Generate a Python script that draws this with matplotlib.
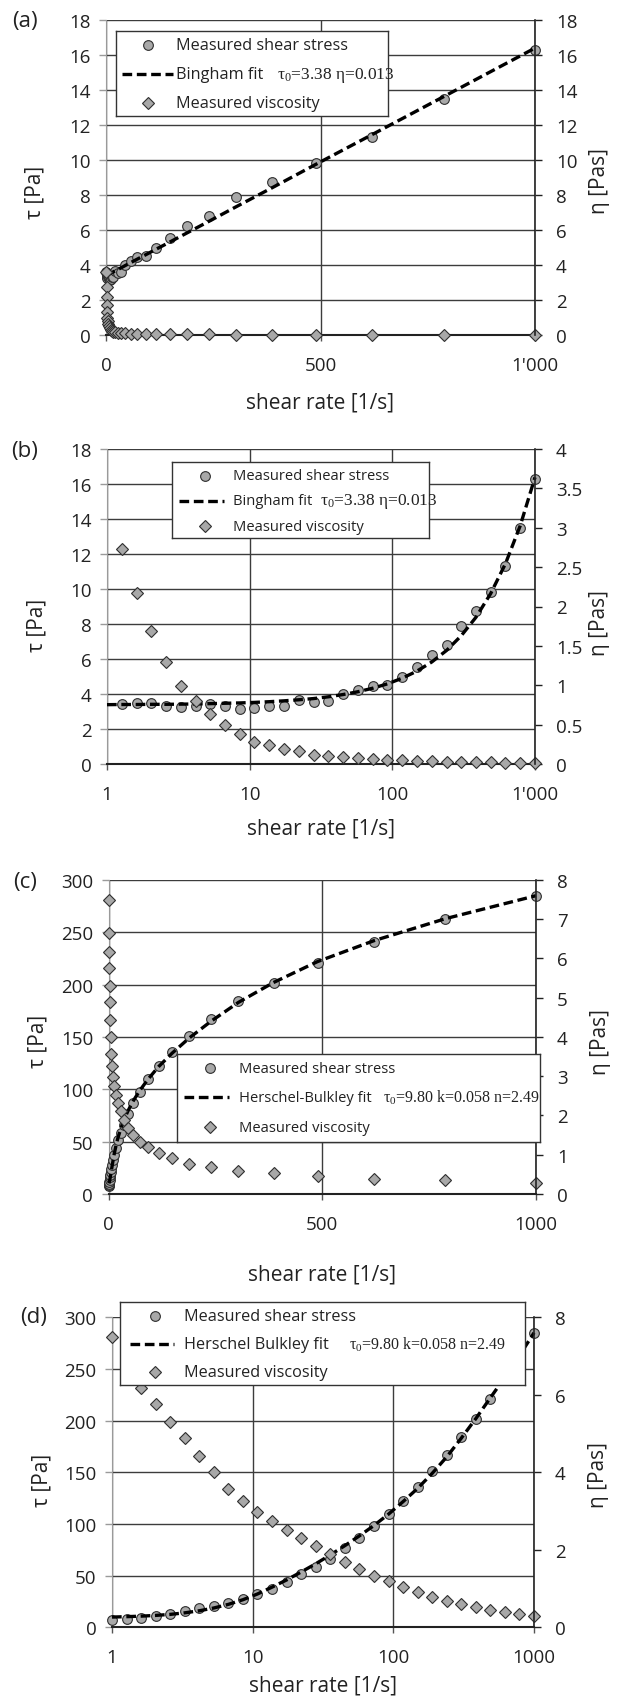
import matplotlib.pyplot as plt
from matplotlib.ticker import NullLocator

plt.rcParams['font.family'] = ['Open Sans', 'DejaVu Sans']
plt.rcParams['mathtext.fontset'] = 'custom'
plt.rcParams['mathtext.rm'] = 'Liberation Serif'
plt.rcParams['mathtext.it'] = 'Liberation Serif:italic'

# shear rates [1/s] (same for all measurements)
rate = [1.0, 1.27, 1.61, 2.04, 2.59, 3.29, 4.18, 5.30, 6.72, 8.53,
        10.8, 13.7, 17.4, 22.1, 28.1, 35.6, 45.2, 57.4, 72.8, 92.4,
        117, 149, 189, 240, 304, 386, 489, 621, 788, 1000]

# Bingham material
bingham_stress = [3.60, 3.43, 3.49, 3.47, 3.33, 3.26, 3.30, 3.41, 3.33, 3.16,
                  3.18, 3.30, 3.30, 3.68, 3.52, 3.62, 4.00, 4.25, 4.44, 4.51,
                  4.99, 5.56, 6.21, 6.80, 7.87, 8.76, 9.81, 11.31, 13.47, 16.27]
bingham_visc = [3.60, 2.73, 2.17, 1.69, 1.30, 0.995, 0.80, 0.635, 0.50, 0.377,
                0.284, 0.237, 0.186, 0.169, 0.118, 0.106, 0.089, 0.072, 0.063, 0.055,
                0.047, 0.040, 0.035, 0.030, 0.027, 0.024, 0.021, 0.019, 0.017, 0.016]
bingham_fit = [3.39, 3.40, 3.40, 3.41, 3.41, 3.42, 3.43, 3.45, 3.47, 3.49,
               3.52, 3.56, 3.61, 3.67, 3.74, 3.84, 3.97, 4.13, 4.33, 4.58,
               4.90, 5.31, 5.83, 6.49, 7.33, 8.39, 9.74, 11.45, 13.62, 16.38]

# Herschel-Bulkley material
hb_stress = [7.1, 8.1, 9.4, 11.0, 12.9, 15.8, 18.4, 20.6, 23.9, 27.7,
             32.3, 37.4, 43.5, 51.3, 58.4, 66.1, 76.5, 86.8, 97.7, 109.7,
             122.6, 135.8, 151.0, 166.8, 184.2, 201.6, 221.0, 241.0, 262.9, 285.0]
hb_visc = [7.50, 6.66, 6.17, 5.75, 5.31, 4.89, 4.43, 4.00, 3.57, 3.26,
           2.98, 2.74, 2.51, 2.31, 2.11, 1.89, 1.69, 1.51, 1.33, 1.19,
           1.05, 0.91, 0.77, 0.69, 0.59, 0.52, 0.45, 0.39, 0.34, 0.28]
hb_fit = [9.9, 10.3, 10.8, 11.5, 12.5, 14.0, 16.0, 18.7, 22.2, 26.7,
          32.2, 38.8, 45.8, 53.5, 61.5, 70.0, 79.0, 88.5, 98.5, 109.5,
          121.5, 134.5, 149.0, 165.0, 183.0, 202.0, 222.0, 242.0, 263.0, 285.0]

bingham_labels = ['Measured shear stress', 'Bingham fit', 'Measured viscosity']
bingham_param = r'$\mathrm{\tau}_\mathrm{0}$=3.38 η=0.013'
hb_labels_c = ['Measured shear stress', 'Herschel-Bulkley fit', 'Measured viscosity']
hb_labels_d = ['Measured shear stress', 'Herschel Bulkley fit', 'Measured viscosity']
hb_param = r'$\mathrm{\tau}_\mathrm{0}$=9.80 k=0.058 n=2.49'

W, H = 634, 1699
FILL = '#a8a8a8'
EDGE = '#2e2e2e'
GRID = '#3c3c3c'
TXT = '#222222'

fig = plt.figure(figsize=(W / 100, H / 100), dpi=100)


def px_rect(x0, x1, y0, y1):
    return [x0 / W, 1 - y1 / H, (x1 - x0) / W, (y1 - y0) / H]


def draw_panel(box, letter, letter_xy, x, stress, visc, fit, log, yticks_l, yticks_r,
               rlabels, xticklabels, tau_y, eta_y, xl_y):
    ax = fig.add_axes(px_rect(*box))
    ax2 = ax.twinx()

    xs = x if len(stress) == len(x) else x[1:]
    ax.plot(x, fit, color='black', lw=2.4, dashes=(2.9, 1.4), zorder=4, clip_on=False)
    ax.plot(xs, stress, 'o', ms=7, mfc=FILL, mec=EDGE, mew=0.8, zorder=3, clip_on=False)
    ax2.plot(xs, visc, 'D', ms=6.3, mfc=FILL, mec=EDGE, mew=0.8, clip_on=False)

    if log:
        ax.set_xscale('log')
        ax.set_xlim(1, 1000)
        ax.set_xticks([1, 10, 100, 1000])
    else:
        ax.set_xlim(0, 1000)
        ax.set_xticks([0, 500, 1000])
    ax.xaxis.set_minor_locator(NullLocator())
    ax.set_xticklabels(xticklabels)

    ax.set_ylim(yticks_l[0], yticks_l[-1])
    ax.set_yticks(yticks_l)
    ax2.set_ylim(yticks_r[0], yticks_r[-1])
    ax2.set_yticks(yticks_r)
    ax2.set_yticklabels(rlabels)

    ax.grid(True, color=GRID, lw=1.0)
    ax.set_axisbelow(True)

    for s in ['top', 'right']:
        ax.spines[s].set_visible(False)
    for s in ['top', 'left', 'bottom']:
        ax2.spines[s].set_visible(False)
    ax.spines['left'].set_color('#9a9a9a')
    ax.spines['bottom'].set_color(TXT)
    ax.spines['bottom'].set_linewidth(1.5)
    ax2.spines['right'].set_color(TXT)
    ax2.spines['right'].set_linewidth(1.2)

    ax.tick_params(axis='y', direction='out', length=5, width=1, color='#9a9a9a',
                   pad=6, labelsize=13.5, labelcolor=TXT)
    ax.tick_params(axis='x', direction='out', length=4, width=1, color='#555555',
                   pad=11, labelsize=13.5, labelcolor=TXT)
    ax2.tick_params(axis='y', direction='out', length=5, width=1, color=TXT,
                    pad=10, labelsize=13.5, labelcolor=TXT)

    ax.set_xlabel('shear rate [1/s]', fontsize=15, color=TXT)
    ax.xaxis.set_label_coords(0.5, xl_y)
    ax.set_ylabel('τ [Pa]', fontsize=15, color=TXT)
    ax.yaxis.set_label_coords(-0.14, tau_y)
    ax2.set_ylabel('η [Pas]', fontsize=15, color=TXT)
    ax2.yaxis.set_label_coords(1.127, eta_y)

    fig.text(letter_xy[0] / W, 1 - letter_xy[1] / H, letter, fontsize=16, color=TXT,
             ha='center', va='center')
    return ax


def draw_legend(box, labels, param, mark_x, text_x, line_x, param_x, rows, fs, pfs):
    lg = fig.add_axes(px_rect(*box))
    lg.set_xlim(0, 1)
    lg.set_ylim(0, 1)
    lg.set_xticks([])
    lg.set_yticks([])
    for s in lg.spines.values():
        s.set_color('#333333')
        s.set_linewidth(1.0)
    lg.plot([mark_x], [rows[0]], 'o', ms=7, mfc=FILL, mec=EDGE, mew=0.8)
    lg.plot(line_x, [rows[1], rows[1]], color='black', lw=2.4, dashes=(2.9, 1.4))
    lg.plot([mark_x], [rows[2]], 'D', ms=6, mfc=FILL, mec=EDGE, mew=0.8)
    for lab, yy in zip(labels, rows):
        lg.text(text_x, yy, lab, fontsize=fs, va='center', ha='left', color=TXT)
    lg.text(param_x, rows[1], param, fontsize=pfs, va='center', ha='left',
            family='Liberation Serif', color=TXT)


# (a) Bingham, linear
draw_panel((106, 535, 20.7, 336), '(a)', (25, 21), rate, bingham_stress, bingham_visc,
           bingham_fit, False, list(range(0, 19, 2)), list(range(0, 19, 2)),
           [str(v) for v in range(0, 19, 2)], ['0', '500', "1'000"], 0.455, 0.49, -0.18)
draw_legend((116, 388, 31.7, 117.3), bingham_labels, bingham_param,
            0.119, 0.221, [0.021, 0.211], 0.593, [0.837, 0.494, 0.152], 11.7, 12.5)

# (b) Bingham, log
draw_panel((107, 535, 450, 765), '(b)', (25, 452), rate, bingham_stress[1:],
           bingham_visc[1:], bingham_fit, True, list(range(0, 19, 2)),
           [0, 0.5, 1, 1.5, 2, 2.5, 3, 3.5, 4],
           ['0', '0.5', '1', '1.5', '2', '2.5', '3', '3.5', '4'],
           ['1', '10', '100', "1'000"], 0.444, 0.45, -0.17)
draw_legend((172, 429, 463.3, 539.3), bingham_labels, bingham_param,
            0.127, 0.237, [0.028, 0.201], 0.575, [0.825, 0.496, 0.158], 10.6, 12.5)

# (c) Herschel-Bulkley, linear
draw_panel((108.5, 536, 881, 1194.8), '(c)', (25, 882.5), rate, hb_stress, hb_visc,
           hb_fit, False, list(range(0, 301, 50)), list(range(0, 9)),
           [str(v) for v in range(0, 9)], ['0', '500', '1000'], 0.49, 0.487, -0.222)
draw_legend((177.4, 540.3, 1055, 1143.3), hb_labels_c, hb_param,
            0.089, 0.170, [0.019, 0.142], 0.567, [0.838, 0.51, 0.17], 10.6, 11.5)

# (d) Herschel-Bulkley, log
draw_panel((112, 534, 1318.3, 1628.3), '(d)', (34, 1317.5), rate, hb_stress, hb_visc,
           hb_fit, True, list(range(0, 301, 50)), [0, 2, 4, 6, 8],
           ['0', '2', '4', '6', '8'], ['1', '10', '100', '1000'], 0.478, 0.495, -0.152)
draw_legend((120.2, 525, 1303.3, 1386), hb_labels_d, hb_param,
            0.085, 0.157, [0.024, 0.132], 0.566, [0.831, 0.496, 0.161], 11.7, 11.5)

fig.savefig('out.png', dpi=100)
